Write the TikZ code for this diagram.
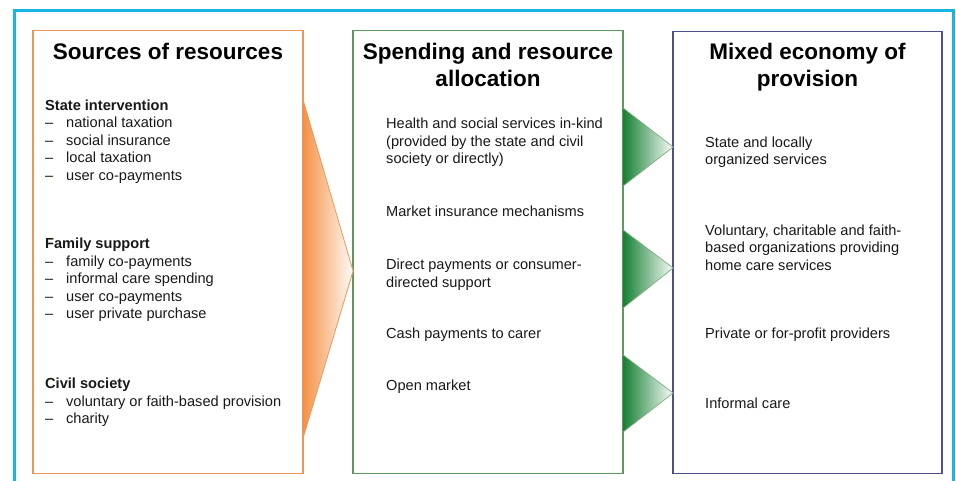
\documentclass[tikz,border=0pt]{standalone}
\usepackage{fontspec}
\setmainfont{Liberation Sans}
\definecolor{framecyan}{RGB}{22,182,226}
\definecolor{orangeline}{RGB}{236,150,90}
\definecolor{orangefill}{RGB}{243,146,70}
\definecolor{greenline}{RGB}{96,152,96}
\definecolor{greenfill}{RGB}{22,128,52}
\definecolor{blueline}{RGB}{78,78,140}
\definecolor{bodytext}{RGB}{25,25,25}
\newcommand{\dashitem}{\makebox[21bp][l]{–}}
\begin{document}
\begin{tikzpicture}[x=1bp,y=-1bp,
  box/.style={draw, line width=1.3bp, inner sep=0, outer sep=0, anchor=north west},
  ttl/.style={font=\fontsize{22.5bp}{26.5bp}\selectfont\bfseries, align=center, anchor=north, inner sep=0, text=black},
  body/.style={font=\fontsize{14.6bp}{17.5bp}\selectfont, align=left, anchor=north west, inner sep=0, text=bodytext},
]
\useasboundingbox (0,0) rectangle (956,481);
\fill[white] (0,0) rectangle (956,481);
\draw[framecyan, line width=2.6bp] (14.5,482) -- (14.5,10.5) -- (953.5,10.5) -- (953.5,482);

% boxes
\node[box, draw=orangeline, minimum width=270bp, minimum height=443bp] (src) at (33.1,30.5) {};
\node[box, draw=greenline, minimum width=270bp, minimum height=443bp] (mid) at (353.1,30.5) {};
\node[box, draw=blueline, minimum width=269bp, minimum height=442bp] (mix) at (673.1,31.5) {};

% orange chevron
\shade[left color=orangefill, middle color=orangefill!75, right color=orangefill!3] (src.east |- 0,100) -- (mid.west |- 0,271) -- (src.east |- 0,438) -- cycle;
\draw[orangeline, line width=0.8bp] (src.east |- 0,100) -- (mid.west |- 0,271) -- (src.east |- 0,438);

% green chevrons
\foreach \t/\m/\b in {108/147/186, 230/268/308, 355/393/432}{
  \shade[left color=greenfill, middle color=greenfill!60, right color=greenfill!3] (mid.east |- 0,\t) -- (mix.west |- 0,\m) -- (mid.east |- 0,\b) -- cycle;
  \draw[greenline!80, line width=0.7bp] (mid.east |- 0,\t) -- (mix.west |- 0,\m) -- (mid.east |- 0,\b);
}

% titles
\node[ttl] (t1) at (168,43) {Sources of resources};
\node[ttl] (t2) at (488,43) {Spending and resource\\allocation};
\node[ttl] (t3) at (807.5,43) {Mixed economy of\\provision};

% left column
\node[body] (si) at (45,99.5) {\textbf{State intervention}\\\dashitem national taxation\\\dashitem social insurance\\\dashitem local taxation\\\dashitem user co-payments};
\node[body] (fs) at (45,237.8) {\textbf{Family support}\\\dashitem family co-payments\\\dashitem informal care spending\\\dashitem user co-payments\\\dashitem user private purchase};
\node[body] (cs) at (45,377.8) {\textbf{Civil society}\\\dashitem voluntary or faith-based provision\\\dashitem charity};

% middle column
\node[body] (m1) at (386,117.8) {Health and social services in-kind\\(provided by the state and civil\\society or directly)};
\node[body] (m2) at (386,205.8) {Market insurance mechanisms};
\node[body] (m3) at (386,258.8) {Direct payments or consumer-\\directed support};
\node[body] (m4) at (386,327.3) {Cash payments to carer};
\node[body] (m5) at (386,379.3) {Open market};

% right column
\node[body] (r1) at (705,136.3) {State and locally\\organized services};
\node[body] (r2) at (705,224.3) {Voluntary, charitable and faith-\\based organizations providing\\home care services};
\node[body] (r3) at (705,327.3) {Private or for-profit providers};
\node[body] (r4) at (705,397.3) {Informal care};
\end{tikzpicture}
\end{document}
